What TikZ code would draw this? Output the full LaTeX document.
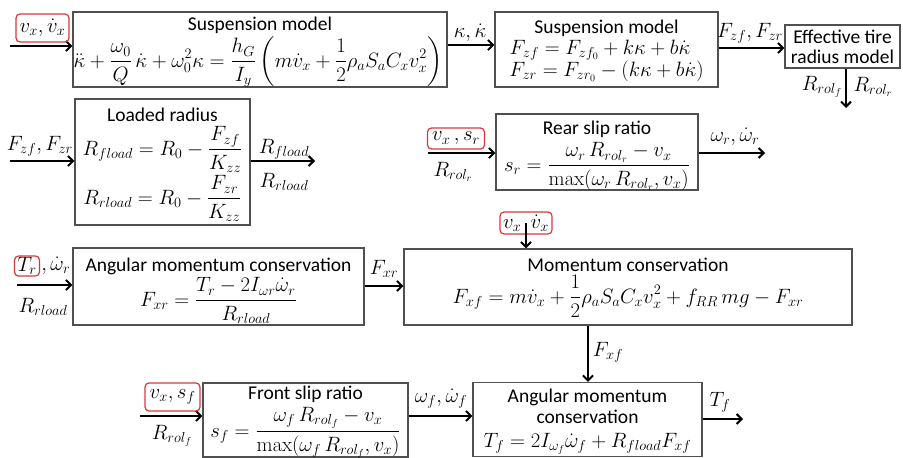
\documentclass[tikz,border=0pt]{standalone}
\usepackage{amsmath}
\usepackage[no-math]{fontspec}
\setmainfont{Carlito}
\usetikzlibrary{arrows.meta}
\definecolor{boxgray}{HTML}{505050}
\definecolor{hired}{HTML}{D8373A}
\tikzset{
  blk/.style={draw=boxgray, line width=1.3pt, inner sep=0pt},
  arr/.style={line width=2pt, -{Straight Barb[length=5pt,width=10pt,line width=2pt]}},
  lbl/.style={inner sep=0pt, font=\fontsize{19.5}{22}\selectfont},
  ttl/.style={lbl, anchor=base},
  eqn/.style={lbl, anchor=base, font=\fontsize{20}{22}\selectfont},
  redbox/.style={draw=hired, line width=1.2pt, rounded corners=4pt, inner sep=0pt, font=\fontsize{19.5}{22}\selectfont}
}
\begin{document}
\begin{tikzpicture}[x=1pt,y=-1pt]
\useasboundingbox (0,0) rectangle (903,458);
% boxes
\node[blk, minimum width=374, minimum height=75] (susp1) at (260,49.5) {};
\node[blk, minimum width=223, minimum height=75] (susp2) at (606.5,49.5) {};
\node[blk, minimum width=115, minimum height=43] (eff) at (842.5,46.5) {};
\node[blk, minimum width=175, minimum height=126] (load) at (162.5,162) {};
\node[blk, minimum width=202, minimum height=76] (rear) at (597,152) {};
\node[blk, minimum width=291, minimum height=77] (angr) at (218.5,286.5) {};
\node[blk, minimum width=448, minimum height=76] (mom) at (628,287) {};
\node[blk, minimum width=205, minimum height=74] (front) at (305.5,420) {};
\node[blk, minimum width=229, minimum height=74] (angf) at (587.5,419.5) {};
% box texts
\node[ttl] (t1) at (260,30) {Suspension model};
\node[eqn] (e1) at (258,67) {$\displaystyle \ddot\kappa + \frac{\omega_0}{Q}\,\dot\kappa + \omega_0^2\kappa = \frac{h_G}{I_y}\left(m\dot{v}_x + \frac12\rho_a S_a C_x v_x^2\right)$};
\node[ttl] (t2) at (606.5,33) {Suspension model};
\node[eqn] (e2a) at (600,54) {$F_{zf} = F_{zf_0} + k\kappa + b\dot\kappa$};
\node[eqn] (e2b) at (606.5,76) {$F_{zr} = F_{zr_0} - (k\kappa + b\dot\kappa)$};
\node[ttl] (t3a) at (842.5,43) {Effective tire};
\node[ttl] (t3b) at (842.5,63) {radius model};
\node[ttl] (t4) at (162.5,121) {Loaded radius};
\node[eqn] (e4a) at (162.5,155) {$\displaystyle R_{fload} = R_0 - \frac{F_{zf}}{K_{zz}}$};
\node[eqn] (e4b) at (162.5,204) {$\displaystyle R_{rload} = R_0 - \frac{F_{zr}}{K_{zz}}$};
\node[ttl] (t5) at (597,134) {Rear slip ratio};
\node[eqn] (e5) at (597,171) {$\displaystyle s_r = \frac{\omega_r\, R_{rol_r} - v_x}{\max(\omega_r\, R_{rol_r}, v_x)}$};
\node[ttl] (t6) at (218.5,271) {Angular momentum conservation};
\node[eqn] (e6) at (218.5,306) {$\displaystyle F_{xr} = \frac{T_r - 2I_{\omega r}\dot\omega_r}{R_{rload}}$};
\node[ttl] (t7) at (628,271) {Momentum conservation};
\node[eqn] (e7) at (628,303) {$\displaystyle F_{xf} = m\dot v_x + \frac12\rho_a S_a C_x v_x^2 + f_{RR}\, m g - F_{xr}$};
\node[ttl] (t8) at (305.5,399) {Front slip ratio};
\node[eqn] (e8) at (305.5,437) {$\displaystyle s_f = \frac{\omega_f\, R_{rol_f} - v_x}{\max(\omega_f\, R_{rol_f}, v_x)}$};
\node[ttl] (t9a) at (587.5,402) {Angular momentum};
\node[ttl] (t9b) at (587.5,423) {conservation};
\node[eqn] (e9) at (587.5,447) {$T_f = 2I_{\omega_f}\dot\omega_f + R_{fload}F_{xf}$};
% free ends
\coordinate (in1) at (10,46);
\coordinate (inload) at (10,161);
\coordinate (outload) at (315,161);
\coordinate (inrear) at (428,153);
\coordinate (outrear) at (765,153);
\coordinate (inangr) at (17,285);
\coordinate (infront) at (140,416);
\coordinate (outangf) at (743,419);
\coordinate (effout) at (846,108);
% connectors
\draw[arr] (in1) -- (in1 -| susp1.west);
\draw[arr] (susp1.east |- 0,45) -- (susp2.west |- 0,45);
\draw[arr] (susp2.east |- 0,48) -- (eff.west |- 0,48);
\draw[arr] (effout |- eff.south) -- (effout);
\draw[arr] (inload) -- (inload -| load.west);
\draw[arr] (outload -| load.east) -- (outload);
\draw[arr] (inrear) -- (inrear -| rear.west);
\draw[arr] (outrear -| rear.east) -- (outrear);
\draw[arr] (inangr) -- (inangr -| angr.west);
\draw[arr] (angr.east |- 0,286) -- (mom.west |- 0,286);
\draw[arr] (mom.south -| 588,0) -- (angf.north -| 588,0);
\draw[arr] (infront) -- (infront -| front.west);
\draw[arr] (front.east |- 0,416) -- (angf.west |- 0,416);
\draw[arr] (outangf -| angf.east) -- (outangf);
% labels
\node[redbox, minimum width=53, minimum height=28] (vx1) at (42.5,28) {$v_x, \dot v_x$};
\node[lbl] (kap) at (470,33) {$\kappa, \dot\kappa$};
\node[lbl] (fz) at (750,33) {$F_{zf}, F_{zr}$};
\node[lbl] (rolf) at (822,87) {$R_{rol_f}$};
\node[lbl] (rolr) at (873,87) {$R_{rol_r}$};
\node[lbl] (fzl) at (40,146) {$F_{zf}, F_{zr}$};
\node[lbl] (rfl) at (284,149) {$R_{fload}$};
\node[lbl] (rrl) at (284,182) {$R_{rload}$};
\node[redbox, minimum width=57, minimum height=21] (vxr) at (456,138.5) {$v_x\,, s_r$};
\node[lbl] (rolr2) at (453,172) {$R_{rol_r}$};
\node[lbl] (omr) at (735,137) {$\omega_r, \dot\omega_r$};
\node[redbox, minimum width=25, minimum height=20] (tr) at (27,266) {$T_r$};
\node[lbl, anchor=west] (omr2) at ([xshift=1pt]tr.east) {$,\dot\omega_r$};
\node[lbl] (rrl2) at (43,307) {$R_{rload}$};
\node[lbl] (fxr) at (384,269) {$F_{xr}$};
\node[redbox, minimum width=52, minimum height=22] (vxm) at (526,223) {$v_x\;\,\dot v_x$};
\draw[arr] (vxm.center) -- (vxm.center |- mom.north);
\node[lbl] (fxf) at (608,352) {$F_{xf}$};
\node[redbox, minimum width=55, minimum height=28] (vxf) at (172.5,397) {$v_x, s_f$};
\node[lbl] (rolf2) at (172,436) {$R_{rol_f}$};
\node[lbl] (omf) at (441,399) {$\omega_f, \dot\omega_f$};
\node[lbl] (tf) at (720,402) {$T_f$};
\end{tikzpicture}
\end{document}
